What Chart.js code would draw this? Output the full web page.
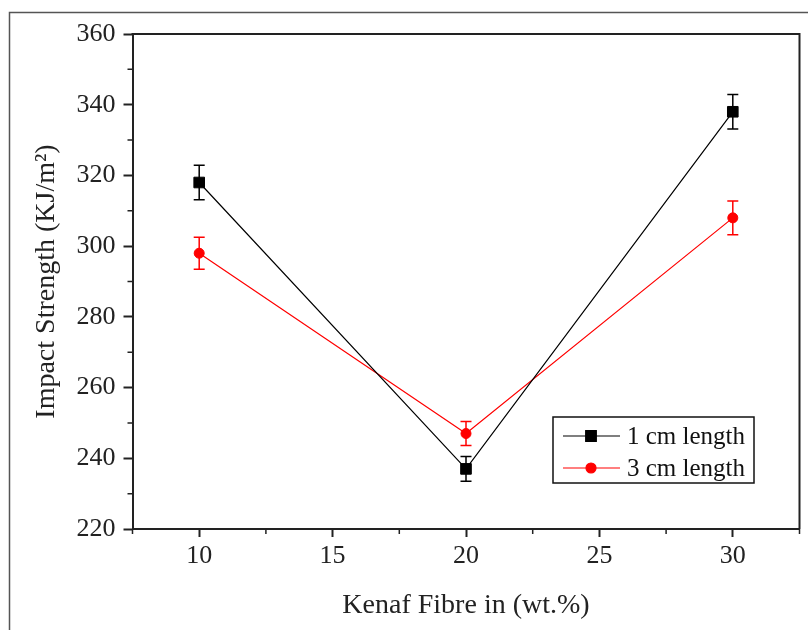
<!DOCTYPE html>
<html>
<head>
<meta charset="utf-8">
<script src="https://cdn.jsdelivr.net/npm/chart.js@4.4.0/dist/chart.umd.min.js"></script>
<style>
  html, body { margin: 0; padding: 0; background: #fff; }
  #wrap { width: 808px; height: 630px; }
</style>
</head>
<body>
<div id="wrap"><canvas id="myChart" width="808" height="630"></canvas></div>
<script>
// values
const fibre = [10, 20, 30];
const len1cm = [318, 237, 338];
const len1cmErr = [4.9, 3.5, 4.9];
const len3cm = [298, 247, 308];
const len3cmErr = [4.5, 3.4, 4.8];
const seriesNames = ['1 cm length', '3 cm length'];
const xTicks = [10, 15, 20, 25, 30];
const yTicks = [220, 240, 260, 280, 300, 320, 340, 360];
const xMinor = [7.5, 12.5, 17.5, 22.5, 27.5, 32.5];
const yMinor = [230, 250, 270, 290, 310, 330, 350];

const serif = "'Liberation Serif', 'Times New Roman', serif";
const axisColor = '#222';

// white page + thin outer frame
const framePlugin = {
  id: 'frame',
  beforeDraw(chart) {
    const ctx = chart.ctx;
    ctx.save();
    ctx.fillStyle = '#fff';
    ctx.fillRect(0, 0, chart.width, chart.height);
    ctx.strokeStyle = '#555';
    ctx.lineWidth = 1.5;
    ctx.beginPath();
    ctx.moveTo(9.5, chart.height);
    ctx.lineTo(9.5, 12.5);
    ctx.lineTo(chart.width, 12.5);
    ctx.stroke();
    ctx.restore();
  },
  afterDraw(chart) {
    // top and right edges of the plot box, plus minor ticks
    const ctx = chart.ctx;
    const a = chart.chartArea;
    const xs = chart.scales.x, ys = chart.scales.y;
    ctx.save();
    ctx.strokeStyle = axisColor;
    ctx.lineWidth = 2;
    ctx.beginPath();
    ctx.moveTo(a.left - 1, a.top);
    ctx.lineTo(a.right, a.top);
    ctx.lineTo(a.right, a.bottom);
    ctx.stroke();
    ctx.lineWidth = 1.5;
    ctx.beginPath();
    xMinor.forEach(v => {
      const px = xs.getPixelForValue(v);
      ctx.moveTo(px, a.bottom);
      ctx.lineTo(px, a.bottom + 5);
    });
    yMinor.forEach(v => {
      const py = ys.getPixelForValue(v);
      ctx.moveTo(a.left, py);
      ctx.lineTo(a.left - 5, py);
    });
    ctx.stroke();
    ctx.restore();
  }
};

// error bars drawn under the markers
const errorBars = {
  id: 'errorBars',
  beforeDatasetsDraw(chart) {
    const ctx = chart.ctx;
    const xs = chart.scales.x, ys = chart.scales.y;
    ctx.save();
    chart.data.datasets.forEach(ds => {
      ctx.strokeStyle = ds.borderColor;
      ctx.lineWidth = 1.5;
      ds.data.forEach((p, j) => {
        const e = ds.errors[j];
        const px = xs.getPixelForValue(p.x);
        const top = ys.getPixelForValue(p.y + e);
        const bot = ys.getPixelForValue(p.y - e);
        ctx.beginPath();
        ctx.moveTo(px, top); ctx.lineTo(px, bot);
        ctx.moveTo(px - 5.5, top); ctx.lineTo(px + 5.5, top);
        ctx.moveTo(px - 5.5, bot); ctx.lineTo(px + 5.5, bot);
        ctx.stroke();
      });
    });
    ctx.restore();
  }
};

// boxed legend inside the plot, lower right
const boxLegend = {
  id: 'boxLegend',
  afterDraw(chart, args, opts) {
    const ctx = chart.ctx;
    ctx.save();
    ctx.strokeStyle = '#111';
    ctx.lineWidth = 1.5;
    ctx.strokeRect(opts.x, opts.y, opts.w, opts.h);
    ctx.font = '25px ' + serif;
    ctx.textBaseline = 'middle';
    chart.data.datasets.forEach((ds, i) => {
      const cy = opts.y + 19 + i * 32;
      ctx.strokeStyle = ds.borderColor;
      ctx.fillStyle = ds.backgroundColor;
      ctx.lineWidth = 1.2;
      ctx.beginPath();
      ctx.moveTo(opts.x + 10, cy);
      ctx.lineTo(opts.x + 67, cy);
      ctx.stroke();
      Chart.helpers.drawPoint(ctx, {
        pointStyle: ds.pointStyle, radius: ds.pointRadius, borderWidth: 1
      }, opts.x + 38, cy);
      ctx.fillStyle = '#111';
      ctx.fillText(ds.label, opts.x + 74, cy + 1);
    });
    ctx.restore();
  }
};

const ctx = document.getElementById('myChart');

new Chart(ctx, {
  type: 'line',
  data: {
    datasets: [{
      label: seriesNames[0],
      data: fibre.map((x, i) => ({ x: x, y: len1cm[i] })),
      errors: len1cmErr,
      borderColor: '#000',
      backgroundColor: '#000',
      borderWidth: 1.2,
      pointStyle: 'rect',
      pointRadius: 7.5,
      pointBorderWidth: 1
    }, {
      label: seriesNames[1],
      data: fibre.map((x, i) => ({ x: x, y: len3cm[i] })),
      errors: len3cmErr,
      borderColor: '#ff0000',
      backgroundColor: '#ff0000',
      borderWidth: 1.2,
      pointStyle: 'circle',
      pointRadius: 5,
      pointBorderWidth: 1
    }]
  },
  options: {
    responsive: false,
    animation: false,
    layout: { padding: { left: 0, top: 34, right: 5.5, bottom: 0 } },
    plugins: {
      legend: { display: false },
      tooltip: { enabled: false },
      boxLegend: { x: 553, y: 417, w: 201, h: 66 }
    },
    scales: {
      x: {
        type: 'linear',
        min: 7.5,
        max: 32.5,
        afterBuildTicks: s => { s.ticks = xTicks.map(v => ({ value: v })); },
        afterFit: s => { s.height = 101; },
        ticks: { font: { family: serif, size: 26 }, color: axisColor, padding: 4 },
        grid: { drawOnChartArea: false, drawTicks: true, tickLength: 8, tickWidth: 2, tickColor: axisColor },
        border: { color: axisColor, width: 2 },
        title: {
          display: true,
          text: 'Kenaf Fibre in (wt.%)',
          font: { family: serif, size: 28 },
          color: axisColor,
          padding: { top: 0, bottom: 8 }
        }
      },
      y: {
        min: 220,
        max: 360,
        afterBuildTicks: s => { s.ticks = yTicks.map(v => ({ value: v })); },
        afterFit: s => { s.width = 132.5; },
        ticks: { font: { family: serif, size: 26 }, color: axisColor, padding: 8 },
        grid: { drawOnChartArea: false, drawTicks: true, tickLength: 9, tickWidth: 2, tickColor: axisColor },
        border: { color: axisColor, width: 2 },
        title: {
          display: true,
          text: 'Impact Strength (KJ/m²)',
          font: { family: serif, size: 28 },
          color: axisColor,
          padding: { top: 30, bottom: 0 }
        }
      }
    }
  },
  plugins: [framePlugin, errorBars, boxLegend]
});
</script>
</body>
</html>
